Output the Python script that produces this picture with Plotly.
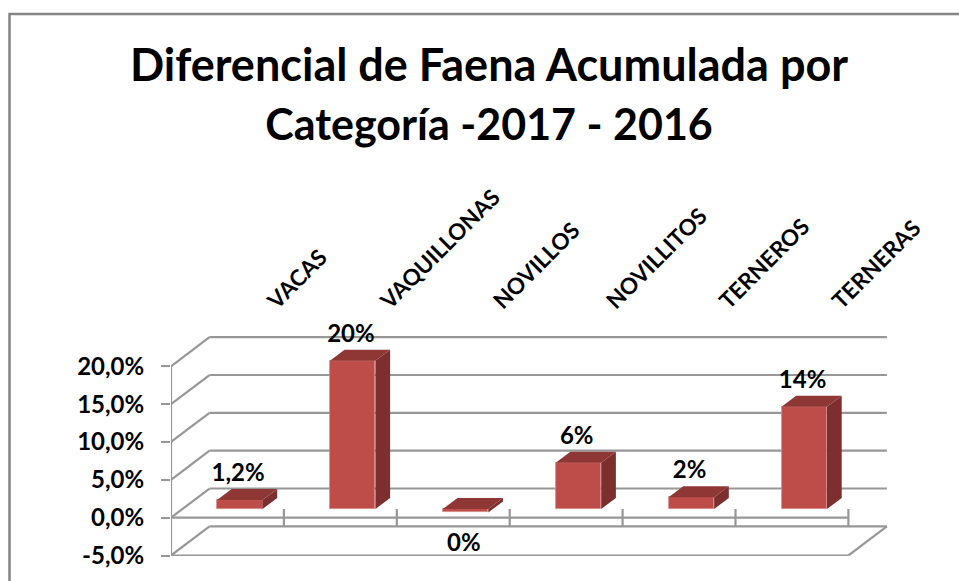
import plotly.graph_objects as go

categories = ["VACAS", "VAQUILLONAS", "NOVILLOS", "NOVILLITOS", "TERNEROS", "TERNERAS"]
values = [1.2, 19.6, -0.45, 6.1, 1.55, 13.5]
value_labels = ["1,2%", "20%", "0%", "6%", "2%", "14%"]
y_ticks = [-5, 0, 5, 10, 15, 20]
y_tick_labels = ["-5,0%", "0,0%", "5,0%", "10,0%", "15,0%", "20,0%"]
title_text = "Diferencial de Faena Acumulada por<br><span style='font-size:43px'>Categoría -2017 - 2016</span>"

W, H = 959, 581
X0, PX_CAT = 171.0, 112.9
Y0, PX_PCT = 518.0, 7.58
TOP, BOTTOM, RIGHT = 319.0, 556.4, 900.0
FONT = "Lato"
GRID = "#979797"

WALL_DX, WALL_DY = 38.5 / PX_CAT, 29.2 / PX_PCT      # back wall offset
BASE_DX, BASE_DY = 12.3 / PX_CAT, 8.7 / PX_PCT       # front of the bars
SIDE_DX, SIDE_DY = 14.7 / PX_CAT, 11.0 / PX_PCT      # bar depth
BAR_W = 45.5 / PX_CAT
LABEL_GAP = 25.0 / PX_PCT
n = len(categories)
centers = [i + 0.5 for i in range(n)]

fig = go.Figure()

# side and top faces
for c, v in zip(centers, values):
    l = c + BASE_DX - BAR_W / 2
    r = c + BASE_DX + BAR_W / 2
    b = BASE_DY
    top = b + max(v, 0)
    low = b + min(v, 0)
    fig.add_trace(go.Scatter(
        x=[r, r + SIDE_DX, r + SIDE_DX, r, r],
        y=[low, low + SIDE_DY, top + SIDE_DY, top, low],
        fill="toself", fillcolor="#7C2F2E", mode="lines", line=dict(width=0),
        hoverinfo="skip", showlegend=False))
    fig.add_trace(go.Scatter(
        x=[l, r, r + SIDE_DX, l + SIDE_DX, l],
        y=[top, top, top + SIDE_DY, top + SIDE_DY, top],
        fill="toself", fillcolor="#8F3735", mode="lines", line=dict(width=0),
        hoverinfo="skip", showlegend=False))

# front faces
fig.add_trace(go.Bar(
    x=[c + BASE_DX for c in centers], y=values, base=BASE_DY, width=BAR_W,
    marker=dict(color="#BE4D4A", line=dict(color="#D48583", width=0.8)),
    hoverinfo="skip", showlegend=False))

# value labels
fig.add_trace(go.Scatter(
    x=[c + BASE_DX - 0.015 for c in centers],
    y=[BASE_DY + (v + LABEL_GAP if v > 0 else v - 33 / PX_PCT) for v in values],
    mode="text", text=["<b>" + t + "</b>" for t in value_labels], cliponaxis=False,
    textfont=dict(family=FONT, size=24, color="#000000"),
    textposition="middle center", hoverinfo="skip", showlegend=False))

# walls, floor and ticks
line = dict(color=GRID, width=2.2)
shapes = []
x_end = float(n)
for t in y_ticks:
    shapes.append(dict(type="line", xref="x", yref="y", layer="below", line=line,
                       x0=0, y0=t, x1=WALL_DX, y1=t + WALL_DY))
    shapes.append(dict(type="line", xref="x", yref="y", layer="below", line=line,
                       x0=WALL_DX, y0=t + WALL_DY, x1=x_end + WALL_DX, y1=t + WALL_DY))
shapes.append(dict(type="line", xref="x", yref="y", layer="below", line=line,
                   x0=0, y0=min(y_ticks), x1=0, y1=max(y_ticks)))
shapes.append(dict(type="line", xref="x", yref="y", layer="below", line=line,
                   x0=0, y0=min(y_ticks), x1=x_end, y1=min(y_ticks)))
shapes.append(dict(type="line", xref="x", yref="y", layer="below", line=line,
                   x0=x_end, y0=min(y_ticks), x1=x_end + WALL_DX, y1=min(y_ticks) + WALL_DY))
shapes.append(dict(type="line", xref="x", yref="y", layer="below", line=line,
                   x0=0, y0=0, x1=x_end, y1=0))
for i in range(1, n + 1):
    shapes.append(dict(type="line", xref="x", yref="y", layer="below", line=line,
                       x0=i, y0=BASE_DY, x1=i, y1=-BASE_DY - 0.05))

# outer chart border (open on the right, running off the page)
plot_w = RIGHT - X0
plot_h = BOTTOM - TOP
shapes.append(dict(type="path", xref="paper", yref="paper", layer="below",
                   path="M {} {} L {} {} L {} {}".format(
                       (9.5 - X0) / plot_w, (BOTTOM - 600) / plot_h,
                       (9.5 - X0) / plot_w, (BOTTOM - 13.5) / plot_h,
                       (970 - X0) / plot_w, (BOTTOM - 13.5) / plot_h),
                   line=dict(color="#858585", width=2.5)))

fig.update_layout(
    width=W, height=H, autosize=False,
    margin=dict(l=X0, r=W - RIGHT, t=TOP, b=H - BOTTOM, pad=0),
    paper_bgcolor="white", plot_bgcolor="rgba(0,0,0,0)",
    bargap=0, showlegend=False, shapes=shapes,
    title=dict(text=title_text, x=489 / W, xanchor="center", y=1 - 81 / H, yanchor="middle",
               font=dict(family=FONT, size=45, color="#000000", weight="bold")),
    xaxis=dict(range=[0, (RIGHT - X0) / PX_CAT], side="top", showgrid=False, zeroline=False,
               showline=False, tickmode="array",
               tickvals=[c + WALL_DX + 0.03 for c in centers], ticktext=categories,
               tickangle=-45, ticklen=0, ticks="",
               tickfont=dict(family=FONT, size=22.5, color="#000000", weight="bold")),
    yaxis=dict(range=[(Y0 - BOTTOM) / PX_PCT, (Y0 - TOP) / PX_PCT], showgrid=False, zeroline=False,
               showline=False, tickmode="array", tickvals=y_ticks, ticktext=y_tick_labels,
               ticks="outside", ticklen=9, tickwidth=2.2, tickcolor=GRID, ticklabelstandoff=12,
               tickfont=dict(family=FONT, size=24, color="#000000", weight="bold")),
)

fig.write_html("out.html", post_script="document.body.style.margin='0';",
               config={"displayModeBar": False})
